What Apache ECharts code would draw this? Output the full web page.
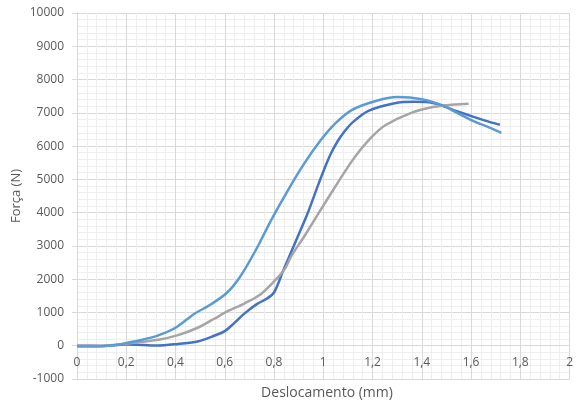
<!DOCTYPE html>
<html>
<head>
<meta charset="utf-8">
<script src="https://cdn.jsdelivr.net/npm/echarts@6/dist/echarts.min.js"></script>
<style>
  html, body { margin: 0; padding: 0; background: #fff; }
  #chart { width: 576px; height: 408px; }
</style>
</head>
<body>
<div id="chart"></div>
<script>
// Force vs. displacement curves, [deslocamento (mm), força (N)]
const amostra1 = [
  [0, -20], [0.05, -25], [0.1, -15], [0.15, 15], [0.2, 80], [0.26, 170],
  [0.33, 310], [0.4, 540], [0.477, 960], [0.543, 1240], [0.61, 1600],
  [0.663, 2080], [0.73, 2930], [0.79, 3800], [0.857, 4680], [0.923, 5480],
  [0.99, 6180], [1.05, 6690], [1.117, 7090], [1.21, 7350], [1.3, 7475],
  [1.4, 7410], [1.49, 7210], [1.53, 7050], [1.61, 6750], [1.677, 6550],
  [1.723, 6400]
];
const amostra2 = [
  [0, 0], [0.1, -5], [0.2, 40], [0.27, 20], [0.33, 5], [0.41, 55],
  [0.49, 125], [0.557, 300], [0.6, 440], [0.637, 670], [0.677, 950],
  [0.73, 1250], [0.77, 1410], [0.8, 1600], [0.837, 2250], [0.897, 3290],
  [0.937, 3990], [0.977, 4790], [1.003, 5290], [1.03, 5760], [1.057, 6130],
  [1.085, 6430], [1.12, 6720], [1.183, 7060], [1.29, 7290], [1.37, 7330],
  [1.45, 7290], [1.53, 7080], [1.61, 6880], [1.677, 6720], [1.717, 6640]
];
const amostra3 = [
  [0, 0], [0.1, 0], [0.2, 60], [0.33, 180], [0.41, 320], [0.49, 540],
  [0.557, 810], [0.61, 1030], [0.677, 1260], [0.743, 1534], [0.797, 1910],
  [0.843, 2300], [0.87, 2690], [0.923, 3290], [0.99, 4090], [1.057, 4880],
  [1.11, 5480], [1.15, 5880], [1.2, 6300], [1.25, 6620], [1.357, 7000],
  [1.45, 7180], [1.53, 7250], [1.59, 7275]
];

const xTitle = 'Deslocamento (mm)';
const yTitle = 'Força (N)';

const textColor = '#595959';
const font = 'Open Sans';
const majorGrid = '#d9d9d9';
const minorGrid = '#efefef';

const GRID_TOP = 13, GRID_H = 366, Y_MIN = -1000, Y_MAX = 10000;
// the horizontal axis sits on force = 0, like a spreadsheet chart
const zeroOffset = GRID_H * (0 - Y_MIN) / (Y_MAX - Y_MIN);

const chart = echarts.init(document.getElementById('chart'), null, { renderer: 'canvas' });

function lineSeries(name, data, color) {
  return {
    name: name,
    type: 'line',
    data: data,
    showSymbol: false,
    smooth: 0.3,
    lineStyle: { color: color, width: 2.5 },
    itemStyle: { color: color },
    z: 3
  };
}

chart.setOption({
  animation: false,
  backgroundColor: '#fff',
  grid: { left: 77, top: GRID_TOP, width: 500, height: GRID_H, containLabel: false },
  xAxis: {
    type: 'value',
    min: 0, max: 2, interval: 0.2,
    offset: -zeroOffset,
    axisLine: { show: true, onZero: false, lineStyle: { color: majorGrid, width: 1 } },
    axisTick: { show: true, length: 5, lineStyle: { color: majorGrid } },
    axisLabel: {
      color: textColor, fontFamily: font, fontSize: 12, margin: 11,
      formatter: v => String(Math.round(v * 10) / 10).replace('.', ',')
    },
    splitLine: { show: true, lineStyle: { color: majorGrid, width: 1 } },
    minorTick: { show: false, splitNumber: 5 },
    minorSplitLine: { show: true, lineStyle: { color: minorGrid, width: 1 } }
  },
  yAxis: {
    type: 'value',
    min: Y_MIN, max: Y_MAX, interval: 1000,
    axisLine: { show: true, lineStyle: { color: majorGrid, width: 1 } },
    axisTick: { show: true, length: 5, lineStyle: { color: majorGrid } },
    axisLabel: {
      color: textColor, fontFamily: font, fontSize: 12, margin: 13,
      formatter: v => String(v)
    },
    splitLine: { show: true, lineStyle: { color: majorGrid, width: 1 } },
    minorTick: { show: false, splitNumber: 5 },
    minorSplitLine: { show: true, lineStyle: { color: minorGrid, width: 1 } }
  },
  graphic: [
    {
      type: 'text', x: 327, y: 393,
      style: { text: xTitle, fill: textColor, font: '14px "' + font + '"', textAlign: 'center', textVerticalAlign: 'middle' }
    },
    {
      type: 'text', x: 16, y: 196, rotation: Math.PI / 2,
      style: { text: yTitle, fill: textColor, font: '13px "' + font + '"', textAlign: 'center', textVerticalAlign: 'middle' }
    }
  ],
  series: [
    lineSeries('Amostra 2', amostra2, '#4472c4'),
    lineSeries('Amostra 3', amostra3, '#a5a5a5'),
    lineSeries('Amostra 1', amostra1, '#5b9bd5')
  ]
});
</script>
</body>
</html>
